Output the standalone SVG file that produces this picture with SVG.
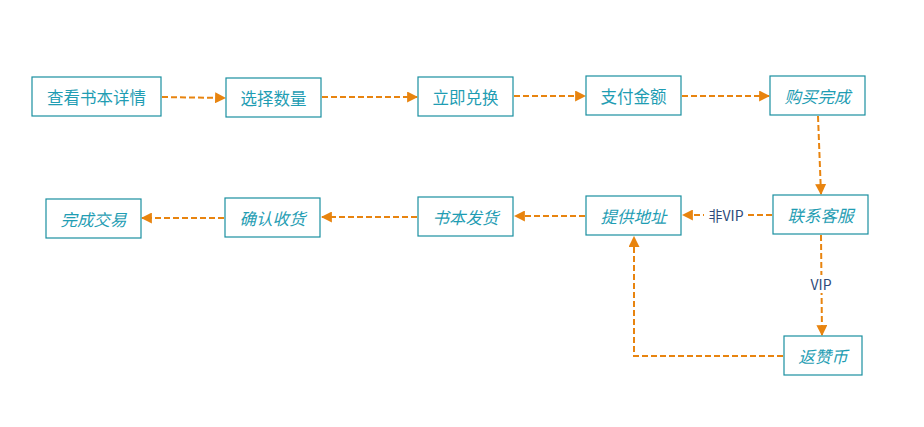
<svg xmlns="http://www.w3.org/2000/svg" width="924" height="427" viewBox="0 0 924 427">
<style>
.box{fill:#ffffff;stroke:#1a8fa0;stroke-width:1.2}
.t{font-family:"Noto Sans CJK SC","Liberation Sans",sans-serif;font-size:16.5px;fill:#1f9db3;text-anchor:middle;dominant-baseline:central}
.i{font-style:italic}
.c{fill:none;stroke:#e8840f;stroke-width:2;stroke-dasharray:6 3}
.lbl{font-family:"Noto Sans CJK SC","Liberation Sans",sans-serif;font-size:14px;fill:#2e4a7a;text-anchor:middle;dominant-baseline:central}
</style>
<defs>
<marker id="ah" viewBox="0 0 10 10" refX="9" refY="5" markerWidth="11" markerHeight="11" orient="auto" markerUnits="userSpaceOnUse">
<path d="M0,0 L10,5 L0,10 z" fill="#e8840f"/>
</marker>
</defs>
<rect width="924" height="427" fill="#ffffff"/>
<g id="connectors">
<path class="c" d="M162,97 L225,98" marker-end="url(#ah)"/>
<path class="c" d="M322,97 L417,97" marker-end="url(#ah)"/>
<path class="c" d="M514,96 L585,96" marker-end="url(#ah)"/>
<path class="c" d="M682,96 L769,96" marker-end="url(#ah)"/>
<path class="c" d="M818,116 L821,194" marker-end="url(#ah)"/>
<path class="c" d="M772,215 L683,215" marker-end="url(#ah)"/>
<rect x="704" y="206" width="44" height="18" fill="#ffffff"/>
<text class="lbl" x="726" y="215">非VIP</text>
<path class="c" d="M585,216 L515,216" marker-end="url(#ah)"/>
<path class="c" d="M417,217 L322,217" marker-end="url(#ah)"/>
<path class="c" d="M224,218 L142,218" marker-end="url(#ah)"/>
<path class="c" d="M821,235 L822,335" marker-end="url(#ah)"/>
<rect x="806" y="275" width="30" height="18" fill="#ffffff"/>
<text class="lbl" x="821" y="284">VIP</text>
<path class="c" d="M783,356 L634,356 L634,237" marker-end="url(#ah)"/>
</g>
<g id="n1"><rect class="box" x="32" y="77" width="129" height="39"/><text class="t" x="96.5" y="96.5">查看书本详情</text></g>
<g id="n2"><rect class="box" x="226" y="78" width="95" height="39"/><text class="t" x="273.5" y="97.5">选择数量</text></g>
<g id="n3"><rect class="box" x="418" y="77" width="95" height="39"/><text class="t" x="465.5" y="96.5">立即兑换</text></g>
<g id="n4"><rect class="box" x="586" y="76" width="95" height="39"/><text class="t" x="633.5" y="95.5">支付金额</text></g>
<g id="n5"><rect class="box" x="770" y="76" width="95" height="39"/><text class="t i" x="817.5" y="95.5">购买完成</text></g>
<g id="n6"><rect class="box" x="773" y="195" width="95" height="39"/><text class="t i" x="820.5" y="214.5">联系客服</text></g>
<g id="n7"><rect class="box" x="586" y="196" width="95" height="39"/><text class="t i" x="633.5" y="215.5">提供地址</text></g>
<g id="n8"><rect class="box" x="418" y="197" width="95" height="39"/><text class="t i" x="465.5" y="216.5">书本发货</text></g>
<g id="n9"><rect class="box" x="225" y="198" width="95" height="39"/><text class="t i" x="272.5" y="217.5">确认收货</text></g>
<g id="n10"><rect class="box" x="46" y="199" width="95" height="39"/><text class="t i" x="93.5" y="218.5">完成交易</text></g>
<g id="n11"><rect class="box" x="784" y="336" width="78" height="39"/><text class="t i" x="823" y="355.5">返赞币</text></g>
</svg>
